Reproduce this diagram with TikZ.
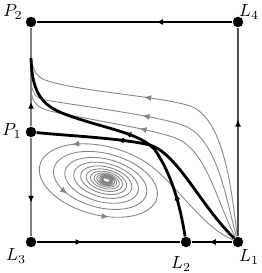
\documentclass[tikz,border=0pt]{standalone}
\usetikzlibrary{arrows.meta, decorations.markings}

\begin{document}
\begin{tikzpicture}[x=0.02cm, y=-0.02cm,
    font=\fontsize{10}{12}\selectfont,
    dot/.style={circle, fill=black, inner sep=0pt, minimum size=2.1mm},
    lbl/.style={inner sep=0pt},
    flow/.style={black!48, line width=0.5pt},
    edgeline/.style={line width=0.8pt},
    orbit/.style={line width=1.6pt},
    midarrow/.style={postaction={decorate, decoration={markings,
      mark=at position #1 with {\arrow{Latex[length=4pt, width=3.4pt]}}}}},
    blackarrow/.style={postaction={decorate, decoration={markings,
      mark=at position #1 with {\arrow[black]{Latex[length=4pt, width=3.4pt]}}}}},
    declare function={
      sx(\t)=107+exp(-0.00065*(\t-45))*(-6+67.6*cos(\t)+9.8*sin(\t));
      sy(\t)=180+exp(-0.00065*(\t-45))*(3+18.1*cos(\t)-36.7*sin(\t));
    }]

  \useasboundingbox (0,0) rectangle (261,273);

  % Equilibria and their labels.
  \node[dot] (P2) at (31,22) {};
  \node[dot] (L4) at (238,22) {};
  \node[dot] (P1) at (31,132) {};
  \node[dot] (L3) at (31,242) {};
  \node[dot] (L2) at (186,242) {};
  \node[dot] (L1) at (238,242) {};
  \node[lbl] (P2lbl) at (13,12) {$P_2$};
  \node[lbl] (L4lbl) at (249,12) {$L_4$};
  \node[lbl] (P1lbl) at (12,131) {$P_1$};
  \node[lbl] (L3lbl) at (16,256) {$L_3$};
  \node[lbl] (L2lbl) at (181,264) {$L_2$};
  \node[lbl] (L1lbl) at (249,257) {$L_1$};

  % Free ends where the trajectories join the left edge.
  \coordinate (g1) at (31,48);
  \coordinate (g2) at (31,78);
  \coordinate (g3) at (31,90);
  \coordinate (bend) at (31,58);
  \coordinate (sp) at (155.7,169.8);

  % Grey trajectories leaving L1.
  \draw[flow, midarrow=0.58] (L1) .. controls (232,195) and (225,118) .. (190,106)
    .. controls (160,96) and (80,92) .. (45,80) .. controls (35,76) and (31,68) .. (g1);
  \draw[flow, midarrow=0.57] (L1) .. controls (226,200) and (218,140) .. (185,126)
    .. controls (160,116) and (80,106) .. (45,100) .. controls (35,98) and (31,92) .. (g2);
  \draw[flow, midarrow=0.56] (L1) .. controls (218,205) and (208,155) .. (180,140)
    .. controls (160,130) and (90,120) .. (50,111) .. controls (38,108) and (32,103) .. (g3);
  \draw[flow] (L1) .. controls (205,228) and (186,197) .. (sp);

  % Spiral round the interior focus.
  \draw[flow] plot[domain=45:4800, samples=1000, smooth, variable=\t] ({sx(\t)},{sy(\t)});
  \draw[flow, -{Latex[length=4pt, width=3.4pt]}]
    plot[domain=117:125, samples=5, variable=\t] ({sx(\t)},{sy(\t)});
  \draw[flow, -{Latex[length=4pt, width=3.4pt]}]
    plot[domain=277:285, samples=5, variable=\t] ({sx(\t)},{sy(\t)});
  \draw[flow, -{Latex[length=4pt, width=3.4pt]}]
    plot[domain=582:590, samples=5, variable=\t] ({sx(\t)},{sy(\t)});

  % Edges of the square.
  \draw[edgeline, midarrow=0.39] (L4) -- (P2);
  \draw[edgeline, black!70, blackarrow=0.56] (L1) -- (L4);
  \draw[edgeline, black!50, blackarrow=0.25] (P1) -- (P2);
  \draw[edgeline, black!50, blackarrow=0.66] (P1) -- (L3);
  \draw[edgeline, midarrow=0.32] (L3) -- (L2);
  \draw[orbit, midarrow=0.58] (L1) -- (L2);

  % Heteroclinic orbits.
  \draw[orbit, midarrow=0.665] (L1) .. controls (200,205) and (178,154) .. (150,145)
    .. controls (120,138) and (70,136) .. (P1);
  \draw[orbit, midarrow=0.17, midarrow=0.49] (L2) .. controls (180,205) and (172,175) .. (155,150)
    .. controls (140,132) and (100,128) .. (62,113) .. controls (40,104) and (32,90) .. (bend);

\end{tikzpicture}
\end{document}
